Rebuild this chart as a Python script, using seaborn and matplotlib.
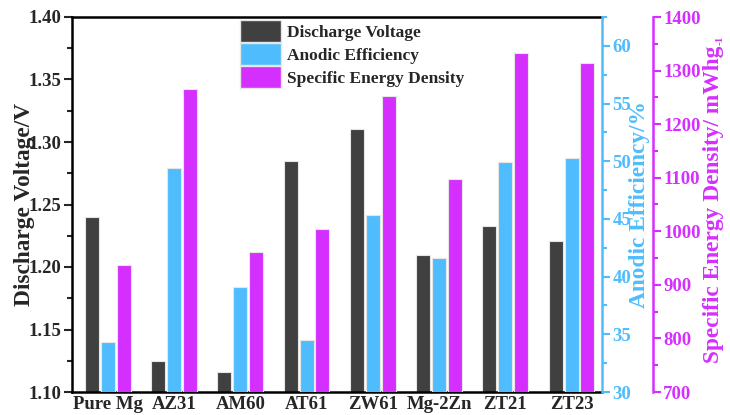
import matplotlib
matplotlib.use("Agg")
import matplotlib.pyplot as plt
import seaborn as sns
import pandas as pd
from matplotlib.ticker import MultipleLocator
from matplotlib.patches import Patch

categories = ["Pure Mg", "AZ31", "AM60", "AT61", "ZW61", "Mg-2Zn", "ZT21", "ZT23"]
discharge_voltage = [1.240, 1.125, 1.116, 1.285, 1.310, 1.210, 1.233, 1.221]
anodic_efficiency = [34.3, 49.4, 39.1, 34.5, 45.3, 41.6, 49.9, 50.3]
energy_density = [937, 1265, 961, 1004, 1252, 1097, 1332, 1315]
series = ["Discharge Voltage", "Anodic Efficiency", "Specific Energy Density"]
colors = ["#404040", "#4FBDFD", "#D52FFF"]

sns.set_style("white")
plt.rcParams["font.family"] = ["Liberation Serif", "DejaVu Serif"]
plt.rcParams["font.weight"] = "bold"

fig = plt.figure(figsize=(7.3, 4.15), dpi=100)
ax = fig.add_axes([72/730, 1 - 392/415, (602-72)/730, (392-17)/415])
ax2 = ax.twinx()
ax3 = ax.twinx()
ax3.spines["right"].set_position(("outward", 36.5))

frames = []
for s, vals in zip(series, [discharge_voltage, anodic_efficiency, energy_density]):
    frames.append(pd.DataFrame({"cat": categories, "val": vals, "series": s}))

palette = dict(zip(series, colors))
for a, df in zip([ax, ax2, ax3], frames):
    sns.barplot(data=df, x="cat", y="val", hue="series", hue_order=series,
                order=categories, palette=palette, dodge=True, width=0.72, gap=0.12,
                saturation=1, ax=a, edgecolor="#e6e6e6", linewidth=0.8, legend=False)
    a.set_xlabel("")

ax.set_xlim(-0.54, 7.46)
ax.set_ylim(1.10, 1.40)
ax2.set_ylim(30, 62.5)
ax3.set_ylim(700, 1400)

ax.yaxis.set_major_locator(MultipleLocator(0.05))
ax.yaxis.set_minor_locator(MultipleLocator(0.025))
ax.yaxis.set_major_formatter(matplotlib.ticker.FormatStrFormatter("%.2f"))
ax2.yaxis.set_major_locator(MultipleLocator(5))
ax2.yaxis.set_minor_locator(MultipleLocator(2.5))
ax3.yaxis.set_major_locator(MultipleLocator(100))
ax3.yaxis.set_minor_locator(MultipleLocator(50))

fs = 13.5
ax.tick_params(axis="y", which="major", direction="out", length=5.5, width=1.5, labelsize=fs, left=True, pad=2)
ax.tick_params(axis="y", which="minor", direction="out", length=3.5, width=1.5, left=True)
ax.tick_params(axis="x", length=0, labelsize=fs, pad=3)
for lbl in ax.get_xticklabels() + ax.get_yticklabels():
    lbl.set_fontweight("bold")

for a, c in [(ax2, colors[1]), (ax3, colors[2])]:
    a.tick_params(axis="y", which="major", direction="out", length=5.5, width=1.5, labelsize=fs,
                  colors=c, right=True, pad=2)
    a.tick_params(axis="y", which="minor", direction="out", length=3.5, width=1.5, colors=c, right=True)
    a.spines["right"].set_color(c)
    a.spines["right"].set_linewidth(1.8)
    for sp in ["top", "left", "bottom"]:
        a.spines[sp].set_visible(False)
    for lbl in a.get_yticklabels():
        lbl.set_fontweight("bold")
    a.set_ylabel("")

for sp in ["left", "bottom", "top"]:
    ax.spines[sp].set_linewidth(1.8)
    ax.spines[sp].set_color("black")
ax.spines["right"].set_visible(False)

lfs = 16.8
ax.set_ylabel("Discharge Voltage/V", fontsize=lfs, fontweight="bold", labelpad=-4.5)
ax2.set_ylabel("Anodic Efficiency/%", fontsize=lfs, fontweight="bold", color=colors[1], labelpad=-1.5)
ax3.set_ylabel("Specific Energy Density/ mWhg", fontsize=lfs, fontweight="bold",
               color=colors[2], labelpad=2)

handles = [Patch(facecolor=c, edgecolor="#e6e6e6", label=s) for s, c in zip(series, colors)]
ax3.legend(handles=handles, loc="upper left", bbox_to_anchor=(0.313, 0.997), frameon=False,
           prop={"family": "Liberation Serif", "weight": "bold", "size": 12.5},
           handlelength=2.4, handleheight=1.57, handletextpad=0.35, labelspacing=0.06,
           borderaxespad=0, borderpad=0.1)

# small superscript "-1" at the end of the rotated unit label
fig.canvas.draw()
bb = ax3.yaxis.label.get_window_extent()
W, H = fig.bbox.width, fig.bbox.height
fig.text((bb.x1 - 4) / W, (bb.y1 + 1) / H, "-1", rotation=90,
         ha="center", va="bottom", fontsize=8, fontweight="bold", color=colors[2])

fig.savefig("out.png", dpi=100)
